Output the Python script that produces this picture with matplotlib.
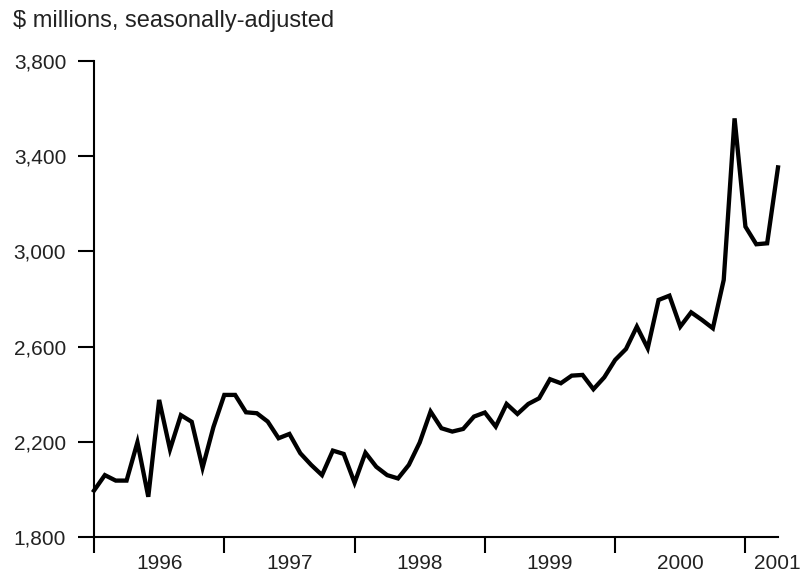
import matplotlib.pyplot as plt
import numpy as np

# datos mensuales, enero 1996 - abril 2001 ($ millones, desestacionalizado)
valores = [1995, 2060, 2037, 2037, 2198, 1969, 2376, 2168, 2312, 2284, 2091, 2262,
           2397, 2397, 2324, 2320, 2285, 2215, 2233, 2152, 2103, 2060, 2163, 2149,
           2028, 2154, 2095, 2060, 2046, 2103, 2197, 2327, 2257, 2243, 2254, 2306,
           2323, 2264, 2359, 2317, 2359, 2383, 2463, 2446, 2478, 2481, 2421, 2471,
           2544, 2590, 2684, 2593, 2796, 2814, 2684, 2744, 2712, 2677, 2880, 3559,
           3104, 3030, 3034, 3353]
anios = ['1996', '1997', '1998', '1999', '2000']
yticks = [1800, 2200, 2600, 3000, 3400, 3800]

meses = np.arange(len(valores))

plt.rcParams['font.family'] = ['Liberation Sans', 'DejaVu Sans']
fig = plt.figure(figsize=(8.04, 5.74), dpi=100)
ax = fig.add_axes([94/804, 37/574, 684/804, 476/574])

ax.plot(meses, valores, color='black', lw=3.1, solid_joinstyle='miter', clip_on=False)

ax.set_xlim(0, 63)
ax.set_ylim(1800, 3800)

ax.spines['top'].set_visible(False)
ax.spines['right'].set_visible(False)
for s in ['left', 'bottom']:
    ax.spines[s].set_linewidth(1.5)

ax.set_yticks(yticks)
ax.set_yticklabels(['{:,}'.format(v) for v in yticks], fontsize=15, color='#222222')
ax.tick_params(axis='y', direction='out', length=11.5, width=1.5, pad=8.5)

ax.set_xticks([0, 12, 24, 36, 48, 60])
ax.set_xticklabels([])
ax.tick_params(axis='x', which='major', direction='out', length=11.5, width=1.5)
ax.set_xticks([6, 18, 30, 42, 54], minor=True)
ax.set_xticklabels(anios, minor=True, fontsize=15, color='#222222')
ax.tick_params(axis='x', which='minor', length=0, pad=12)
# 2001 queda fuera del eje, va como anotacion
ax.annotate('2001', xy=(62.9, 0), xycoords=('data', 'axes fraction'),
            xytext=(0, -12), textcoords='offset points', ha='center', va='top',
            fontsize=15, color='#222222', annotation_clip=False)

fig.text(13/804, 1 - 21/574, '$ millions, seasonally-adjusted', fontsize=17,
         ha='left', va='center', color='#222222')

fig.savefig('out.png', dpi=100)
